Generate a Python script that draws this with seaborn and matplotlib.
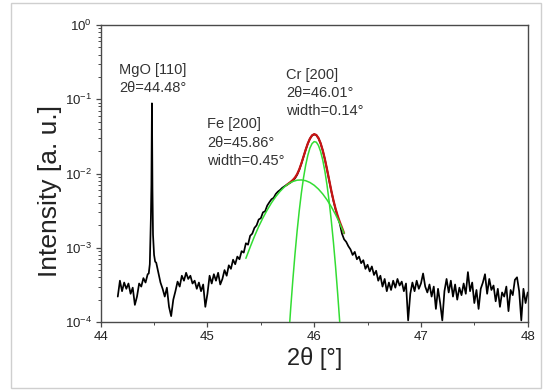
import numpy as np
import pandas as pd
import matplotlib
matplotlib.use("Agg")
import matplotlib.pyplot as plt
import seaborn as sns
from matplotlib.patches import Rectangle
from matplotlib.ticker import LogLocator, MultipleLocator, NullFormatter

sns.set_style("ticks")
plt.rcParams['font.family'] = ['Liberation Sans', 'DejaVu Sans']
plt.rcParams['mathtext.fontset'] = 'custom'
plt.rcParams['mathtext.rm'] = 'Liberation Sans'
plt.rcParams['mathtext.it'] = 'Liberation Sans:italic'

UNIT = 1e-4  # intensities below are in units of 1e-4

STEP = 0.02
scan1_start = 44.16
scan1 = [2.2, 3.6, 2.6, 3.4, 2.8, 3.3, 2.4, 2.9, 1.7, 2.2, 3.3, 3.0, 3.9, 3.4, 4.4]

mgo_theta = [44.45, 44.46, 44.47, 44.475, 44.48, 44.485, 44.49, 44.50, 44.51]
mgo_int = [4.5, 6.0, 25.0, 70.0, 880.0, 60.0, 15.0, 8.0, 6.5]

scan2_start = 44.52
scan2 = [
    6.3, 4.6, 3.4, 2.8, 2.2, 2.9, 1.6, 1.2, 2.0, 2.6,
    3.5, 3.0, 4.2, 3.6, 4.6, 3.8, 4.2, 3.3, 3.6, 2.8,
    3.4, 2.6, 3.2, 1.6, 2.4, 4.2, 3.3, 4.4, 3.6, 4.6,
    3.2, 3.8, 5.0, 4.2, 5.8, 5.2, 6.9, 6.0, 7.6, 7.0,
    9.0, 8.6, 11.5, 11.0, 14.5, 15.5, 18.5, 20, 24, 25,
    30, 31, 37, 41, 45, 47, 53, 57, 60, 64,
    67, 70, 73, 76, 80, 86, 96, 112, 136, 168,
    208, 252, 294, 325, 337, 328, 298, 254, 204, 155,
    113, 81, 58, 43, 33, 26, 21, 15.5, 13.0, 12.0,
    10.5, 9.5, 8.0, 8.8, 7.0, 7.6, 6.2, 6.8, 5.2, 5.9,
    4.8, 5.6, 4.3, 4.9, 3.6, 4.2, 3.0, 3.8, 2.6, 3.4,
    2.7, 3.6, 2.9, 3.8, 3.1, 3.5, 2.6, 3.3, 1.05, 2.4,
    3.4, 2.6, 3.6, 2.8, 3.3, 4.5, 3.0, 2.5, 3.2, 2.2,
    3.0, 1.5, 2.8, 1.8, 1.05, 2.6, 3.8, 2.5, 3.6, 2.2,
    3.2, 2.0, 2.9, 2.3, 3.3, 2.4, 4.7, 2.6, 3.4, 1.8,
    2.7, 1.5, 2.8, 3.4, 4.4, 2.4, 3.8, 2.7, 3.1, 1.9,
    2.8, 1.6, 2.5, 2.2, 3.0, 1.4, 2.7, 2.3, 3.7, 4.0,
    2.6, 1.05, 2.8, 1.8, 2.5,
]

# ---- fitted peaks ----
fe_start, fe_step = 45.36, 0.04
fe_fit = [7.2, 10.2, 14.2, 19.3, 25.3, 32.3, 40.3, 48.8, 57.4, 65.7, 72.8, 78.1,
          81.3, 81.9, 80.0, 75.7, 69.4, 61.6, 53.0, 44.2, 35.7, 28.0, 21.2, 15.6]

cr_start, cr_step = 45.74, 0.02
cr_fit = [0.21, 0.59, 1.54, 3.7, 8.2, 16.8, 31.6, 54.8, 87.7, 129, 175, 220, 253, 269,
          264, 238, 198, 152, 107.5, 70.0, 42.0, 23.3, 11.9, 5.6, 2.4, 0.96, 0.35, 0.12]
sum_fit = [69.6, 73.4, 77.2, 81.8, 88.2, 98.1, 113.5, 136.7, 169, 209, 253.5, 295, 326, 339,
           330, 300, 256, 205, 156, 114, 82, 59, 43.6, 33.6, 26.9, 22.2, 18.7, 15.7]

# ---- build tables ----
theta1 = scan1_start + STEP * np.arange(len(scan1))
theta2 = scan2_start + STEP * np.arange(len(scan2))
scan = pd.DataFrame({
    "theta": np.concatenate([theta1, mgo_theta, theta2]),
    "I": np.concatenate([scan1, mgo_int, scan2]) * UNIT,
})
fe = pd.DataFrame({"theta": fe_start + fe_step * np.arange(len(fe_fit)),
                   "I": np.array(fe_fit) * UNIT})
cr = pd.DataFrame({"theta": cr_start + cr_step * np.arange(len(cr_fit)),
                   "I": np.array(cr_fit) * UNIT})
tot = pd.DataFrame({"theta": cr_start + cr_step * np.arange(len(sum_fit)),
                    "I": np.array(sum_fit) * UNIT})

W, H = 545, 391
fig = plt.figure(figsize=(W / 100, H / 100), dpi=100)
fig.patch.set_facecolor("white")
ax = fig.add_axes([100.7 / W, 1 - 322 / H, 427 / W, 297 / H])

GREEN = "#33dd33"
RED = "#c81414"
sns.lineplot(data=scan, x="theta", y="I", ax=ax, color="black", lw=1.25,
             sort=False, estimator=None, zorder=2)
sns.lineplot(data=tot, x="theta", y="I", ax=ax, color=RED, lw=1.6,
             sort=False, estimator=None, zorder=3)
sns.lineplot(data=fe, x="theta", y="I", ax=ax, color=GREEN, lw=1.1,
             sort=False, estimator=None, zorder=4)
sns.lineplot(data=cr, x="theta", y="I", ax=ax, color=GREEN, lw=1.1,
             sort=False, estimator=None, zorder=4)

ax.set_yscale("log")
ax.set_xlim(44, 48)
ax.set_ylim(1e-4, 1)
ax.xaxis.set_major_locator(MultipleLocator(1))
ax.xaxis.set_minor_locator(MultipleLocator(0.5))
ax.yaxis.set_major_locator(LogLocator(base=10, numticks=10))
ax.yaxis.set_minor_locator(LogLocator(base=10, subs=np.arange(2, 10), numticks=20))
ax.yaxis.set_minor_formatter(NullFormatter())

SPINE = "#4a4a4a"
for s in ax.spines.values():
    s.set_color(SPINE)
    s.set_linewidth(1.0)
ax.tick_params(which="both", direction="out", top=False, right=False,
               color=SPINE, labelcolor="#222222", labelsize=9.5)
ax.tick_params(which="major", length=3.5, width=0.9)
ax.tick_params(which="minor", length=2.0, width=0.7)
ax.tick_params(axis="x", pad=3)
ax.tick_params(axis="y", pad=3)

ax.set_xlabel("2θ [°]", fontsize=17, color="#222222")
ax.set_ylabel("Intensity [a. u.]", fontsize=19, color="#222222")
ax.xaxis.set_label_coords(0.5, -0.085)
ax.yaxis.set_label_coords(-0.09, 0.44)

TXT = "#333333"
def ftext(px, py, s):
    fig.text(px / W, 1 - py / H, s, fontsize=10.5, color=TXT, ha="left", va="baseline")

ftext(119, 74, "MgO [110]")
ftext(119, 92, "2θ=44.48°")
ftext(207, 128, "Fe [200]")
ftext(207, 147, "2θ=45.86°")
ftext(207, 165, "width=0.45°")
ftext(286, 79, "Cr [200]")
ftext(286, 97, "2θ=46.01°")
ftext(286, 115, "width=0.14°")

fig.patches.append(Rectangle((11 / W, 1 - 388 / H), 530 / W, 385 / H,
                             transform=fig.transFigure, fill=False,
                             edgecolor="#cfcfcf", lw=1.0))

fig.savefig("out.png", dpi=100, facecolor="white")
